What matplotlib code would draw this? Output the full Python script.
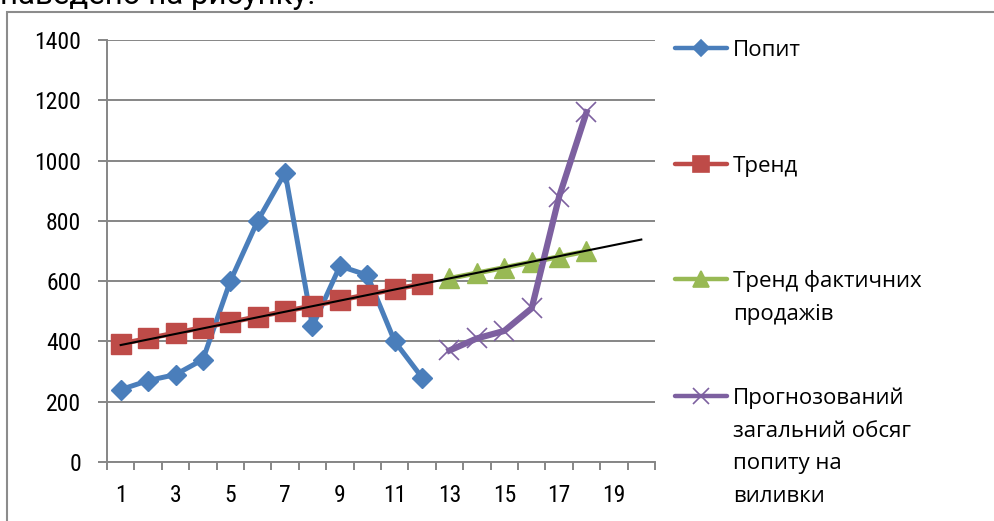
import numpy as np
import matplotlib.pyplot as plt
from matplotlib.patches import Rectangle
from matplotlib.lines import Line2D

# Data
x_demand = list(range(1, 13))
demand = [240, 270, 290, 340, 600, 800, 960, 450, 650, 620, 400, 280]
trend = [392, 410, 428, 446, 464, 482, 500, 518, 537, 555, 573, 591]
x_fore = list(range(13, 19))
trend_sales = [609, 627, 645, 663, 681, 699]
forecast = [370, 410, 435, 510, 880, 1160]
trendline_x = [1, 20]
trendline_y = [388, 738]

labels = [['Попит'], ['Тренд'], ['Тренд фактичних', 'продажів'],
          ['Прогнозований', 'загальний обсяг', 'попиту на', 'виливки']]
colors = ['#4A7EBB', '#BE4B48', '#98B954', '#7D60A0']
markers = ['D', 's', '^', 'x']

W, H = 994, 521
fig = plt.figure(figsize=(W / 100, H / 100), dpi=100)
tick_font = ['Roboto Condensed', 'Liberation Sans Narrow', 'DejaVu Sans']
leg_font = ['Open Sans', 'DejaVu Sans']
grey = '#868686'

# page text clipped at top and frame
fig.text(0, 1 - 4 / H, 'наведено на рисунку.', fontsize=22.5, va='baseline',
         family=['Roboto', 'DejaVu Sans'])
fig.patches.append(Rectangle((7 / W, -0.1), 1.1, 1 - 12 / H + 0.1,
                             transform=fig.transFigure, fill=False,
                             edgecolor='#8C8C8C', linewidth=1.5))

ax = fig.add_axes([107 / W, 1 - 462 / H, 548 / W, 422 / H])
ax.set_xlim(0.5, 20.5)
ax.set_ylim(0, 1400)
for s in ['top', 'right']:
    ax.spines[s].set_visible(False)
for s in ['left', 'bottom']:
    ax.spines[s].set_color(grey)
    ax.spines[s].set_linewidth(1.4)
ax.set_yticks(np.arange(0, 1401, 200))
ax.yaxis.grid(True, color=grey, linewidth=1.4)
ax.set_axisbelow(True)
ax.set_xticks(np.arange(0.5, 20.6, 1))
ax.set_xticklabels([])
ax.set_xticks(np.arange(1, 20, 2), minor=True)
ax.set_xticklabels([str(i) for i in range(1, 20, 2)], minor=True,
                   family=tick_font, fontsize=17)
ax.tick_params(axis='x', which='major', length=6, color=grey, width=1.4)
ax.tick_params(axis='x', which='minor', length=0, pad=16)
ax.tick_params(axis='y', length=6.5, color=grey, width=1.4, pad=12)
for t in ax.get_yticklabels():
    t.set_family(tick_font)
    t.set_fontsize(17)

ax.plot(x_demand, demand, color=colors[0], lw=3.6, marker='D', ms=10,
        clip_on=False)
ax.plot(x_demand, trend, color=colors[1], lw=3.6, marker='s', ms=14.5,
        clip_on=False)
ax.plot(x_fore, trend_sales, color=colors[2], lw=3.6, marker='^', ms=14.5,
        clip_on=False)
ax.plot(x_fore, forecast, color=colors[3], lw=4.5, marker='x', ms=14,
        mew=1.2, clip_on=False)
ax.plot(trendline_x, trendline_y, color='black', lw=1.5, zorder=5)

# legend drawn to look like the Excel one
leg_y = [48, 164, 279, 396]
ms = [8, 11, 11, 11]
for lines, c, m, y, s in zip(labels, colors, markers, leg_y, ms):
    fy = 1 - y / H
    fig.add_artist(Line2D([675 / W, 727 / W], [fy, fy], color=c, lw=3.2,
                          solid_capstyle='round', transform=fig.transFigure))
    fig.add_artist(Line2D([701 / W], [fy], color=c, marker=m, ms=s,
                          mew=1.2, transform=fig.transFigure))
    for i, txt in enumerate(lines):
        fig.text(733 / W, 1 - (y + 8.3 + 32.5 * i) / H, txt, va='baseline',
                 ha='left', fontsize=16, family=leg_font)

fig.savefig('out.png', dpi=100)
